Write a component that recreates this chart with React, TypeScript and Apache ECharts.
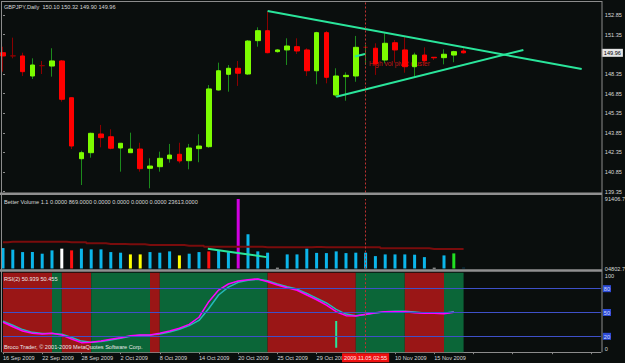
import React, { useEffect, useRef } from "react";
import * as echarts from "echarts";

// ---------- data ----------
const symbolTitle = "GBPJPY,Daily";
const dates = [
  "16 Sep 2009", "17 Sep 2009", "18 Sep 2009", "21 Sep 2009", "22 Sep 2009", "23 Sep 2009", "24 Sep 2009", "25 Sep 2009",
  "28 Sep 2009", "29 Sep 2009", "30 Sep 2009", "1 Oct 2009", "2 Oct 2009", "5 Oct 2009", "6 Oct 2009", "7 Oct 2009",
  "8 Oct 2009", "9 Oct 2009", "12 Oct 2009", "13 Oct 2009", "14 Oct 2009", "15 Oct 2009", "16 Oct 2009", "19 Oct 2009",
  "20 Oct 2009", "21 Oct 2009", "22 Oct 2009", "23 Oct 2009", "25 Oct 2009", "26 Oct 2009", "27 Oct 2009", "28 Oct 2009",
  "29 Oct 2009", "30 Oct 2009", "2 Nov 2009", "3 Nov 2009", "4 Nov 2009", "5 Nov 2009", "6 Nov 2009", "9 Nov 2009",
  "10 Nov 2009", "11 Nov 2009", "12 Nov 2009", "13 Nov 2009", "15 Nov 2009", "16 Nov 2009", "17 Nov 2009", "18 Nov 2009",
];
const futureSlots = 14;

const opens = [149.97, 149.73, 149.72, 148.19, 148.98, 148.95, 149.34, 146.53, 141.87, 142.33, 143.76, 143.55, 142.69, 142.33, 142.61, 141.14, 141.26, 141.87, 142.21, 141.72, 142.64, 142.79, 147.12, 148.32, 148.78, 148.34, 150.89, 151.65, 150.05, 150.18, 150.43, 150.18, 148.59, 151.5, 146.74, 148.14, 148.19, 150.38, 150.31, 149.41, 150.73, 150.18, 148.9, 149.79, 149.62, 149.59, 149.79, 150.1];
const closes = [149.72, 149.72, 148.52, 149.03, 148.98, 149.34, 146.41, 142.84, 142.33, 143.81, 143.48, 142.67, 143.05, 142.61, 141.11, 141.31, 141.9, 142.15, 141.7, 142.69, 142.84, 147.2, 148.59, 148.78, 148.4, 150.86, 151.65, 149.97, 150.18, 150.48, 150.1, 148.59, 151.5, 148.09, 148.19, 148.24, 150.38, 150.38, 149.11, 150.69, 150.18, 148.9, 149.79, 149.36, 149.58, 149.85, 150.05, 149.96];
const lows = [148.52, 149.54, 148.19, 147.96, 148.34, 148.14, 146.23, 142.61, 139.86, 141.95, 142.74, 142.59, 140.88, 142.33, 140.88, 139.61, 140.88, 141.57, 141.52, 141.06, 141.6, 142.71, 147.07, 146.99, 147.43, 148.27, 150.43, 149.92, 149.97, 149.03, 149.87, 148.19, 147.56, 147.63, 146.61, 146.3, 147.75, 149.03, 148.27, 149.16, 149.21, 148.44, 148.14, 149.03, 149.41, 149.08, 149.24, 149.9];
const highs = [150.43, 151.12, 149.97, 149.54, 149.34, 150.31, 149.41, 146.55, 142.48, 143.86, 144.45, 144.12, 143.05, 143.86, 143.09, 141.9, 142.41, 143.0, 143.09, 143.0, 143.74, 147.5, 149.21, 149.03, 149.34, 150.94, 151.91, 153.16, 150.25, 151.07, 151.07, 150.31, 151.57, 151.63, 148.78, 148.47, 151.25, 150.56, 150.69, 151.45, 150.94, 151.15, 149.97, 150.38, 149.62, 150.23, 150.12, 150.32];

const priceTicks = [139.35, 140.85, 142.35, 143.85, 145.35, 146.85, 148.35, 149.85, 151.35, 152.85];
const priceMin = 139.289;
const priceMax = 153.843;

// trend lines: [bar index, price]
const upperTrend = [[27, 153.16], [59.05, 148.72]];
const lowerTrend = [[34, 146.61], [53.1, 150.18]];
const shortTrend = [[35.9, 149.68], [36.94, 149.87]];
const noteText = "High vol pivot cluster";
const noteAnchor = [37.35, 149.18];

// Better Volume
const volumes = [30280, 28270, 25260, 25260, 23250, 27390, 29530, 27390, 29530, 28650, 28650, 25260, 24500, 22370, 22370, 25260, 24500, 26140, 21120, 23250, 25260, 26140, 27390, 25260, 91406.7, 47470, 26140, 24500, 5680, 22370, 22370, 29530, 24260, 24000, 26140, 24000, 24500, 24500, 20240, 22370, 22370, 22370, 22000, 18980, 5680, 21120, 23613, 6000];
const volClass = ["n", "n", "n", "n", "n", "n", "w", "r", "n", "n", "n", "n", "n", "y", "y", "n", "n", "n", "y", "n", "n", "r", "n", "n", "m", "n", "n", "n", "w", "n", "n", "n", "n", "n", "n", "n", "n", "n", "n", "n", "n", "n", "n", "n", "w", "n", "g", "d"];
const volAverage = [37450, 38190, 38190, 38190, 38190, 38190, 38190, 37450, 37450, 36200, 36200, 35330, 35330, 34950, 34950, 34080, 34080, 34080, 34080, 33210, 33210, 31970, 31970, 31970, 31970, 31970, 31970, 31220, 31220, 31220, 31220, 31220, 31500, 31220, 31220, 31220, 31220, 31220, 31220, 29970, 29970, 29970, 29970, 29970, 29100, 29100, 29100, 29100];
const volTrend = [[20.9, 29530], [26.9, 18985]];
const volTicks = [4802.7, 91406.7];
const volTickLabels = ["04802.7", "91406.7"];
const volTitle = "Better Volume 1.1 0.0000 869.0000 0.0000 0.0000 0.0000 0.0000 23613.0000";

// RSI
const rsiMain = [37.7, 32.1, 26.7, 23.8, 22.9, 23.8, 21.7, 16.6, 12.0, 12.5, 14.1, 16.2, 18.3, 20.8, 21.7, 21.7, 23.8, 26.7, 30.1, 35.1, 44.0, 63.6, 78.3, 85.9, 89.7, 91.3, 92.2, 88.8, 84.6, 81.2, 78.0, 72.0, 66.1, 59.4, 51.0, 46.0, 45.6, 47.7, 49.7, 51.0, 51.0, 51.0, 49.7, 49.0, 49.0, 48.5, 50.455];
const rsiSignal = [39, 34, 28.5, 25, 23.5, 23.5, 22.5, 18.5, 14, 12.5, 13.5, 15.5, 17.5, 20, 21.5, 21.5, 23, 25.5, 29, 33.5, 40, 55, 72, 82, 88, 90.5, 92, 90, 86, 82.5, 79.5, 74, 68, 62, 54, 48, 46, 47.5, 49.5, 51, 51.5, 51.5, 50.5, 49.5, 49.5, 49, 50.939];
const rsiZone = ["R", "R", "R", "R", "R", "G", "R", "R", "R", "G", "G", "G", "G", "G", "G", "R", "G", "G", "G", "G", "G", "G", "G", "G", "G", "G", "G", "R", "R", "R", "R", "R", "R", "R", "R", "R", "G", "G", "G", "G", "G", "R", "R", "R", "R", "G", "G"];
const rsiLevels = [20, 50, 80];
const rsiTicks = [0, 20, 50, 80, 100];
const rsiSpike = [[34, 39.3], [34, 5.7]];
const rsiTitle = "RSI(2) 50.939 50.455";
const copyright = "Broco Trader, \u00a9 2001-2009 MetaQuotes Software Corp.";

const cursorIndex = 37;
const cursorLabel = "2009.11.05 02:55";

// ---------- styles ----------
const FONT = '"Liberation Sans", Arial, sans-serif';
const FS = 5.6;
const BG = "#0a0e0d";
const TXT = "#d8d8d8";
const FRAME = "#8c8c8c";
const TREND = "#2ae59b";
const CROSS = "#c03232";
const volColors: Record<string, string> = {
  n: "#0bb6ea", w: "#ffffff", r: "#ff1010", y: "#ffff00", m: "#d000e0", g: "#22e022", d: "#0b3a52",
};
const zoneColors: Record<string, string> = { R: "#9a1616", G: "#0b6638" };

const GL = 3;
const GW = 597.8;
const grids = [
  { left: GL, top: 2, width: GW, height: 190.5 },
  { left: GL, top: 199, width: GW, height: 69.5 },
  { left: GL, top: 272.8, width: GW, height: 79.4 },
];

function buildOption() {
  const cats = dates.concat(Array(futureSlots).fill(""));
  const lastSlot = cats.length - 1;
  const lastClose = closes[closes.length - 1];

  const wickData = dates.map((_, i) => [opens[i], closes[i], lows[i], highs[i]]);
  const bodyData = dates.map((_, i) => {
    const o = opens[i];
    const c = closes[i];
    const v = [o, c, Math.min(o, c), Math.max(o, c)];
    if (Math.abs(o - c) < 0.015) {
      return { value: v, itemStyle: { color: "#8b0000", color0: "#8b0000", borderColor: "#8b0000", borderColor0: "#8b0000" } };
    }
    return v;
  });

  const zones: any[] = [];
  let start = 0;
  for (let i = 1; i <= rsiZone.length; i++) {
    if (i === rsiZone.length || rsiZone[i] !== rsiZone[start]) {
      zones.push([{ xAxis: start, itemStyle: { color: zoneColors[rsiZone[start]] } }, { xAxis: i }]);
      start = i;
    }
  }

  const crossLine = {
    symbol: ["none", "none"],
    silent: true,
    animation: false,
    label: { show: false },
    lineStyle: { color: CROSS, type: [2, 2], width: 1 },
    data: [{ xAxis: cursorIndex }],
  };

  const catAxis = (gridIndex: number, showLabels: boolean) => ({
    type: "category",
    gridIndex,
    data: cats,
    boundaryGap: false,
    axisLine: { show: showLabels, lineStyle: { color: FRAME } },
    axisTick: { show: showLabels, interval: 3, length: 2, lineStyle: { color: FRAME } },
    axisLabel: {
      show: showLabels,
      interval: 3,
      align: "left",
      margin: 3,
      color: TXT,
      fontSize: FS,
      fontFamily: FONT,
      // the label under the cursor time box is hidden, as in the terminal
      formatter: (v: string, idx: number) => (Math.abs(idx - cursorIndex) <= 2 ? "" : v),
    },
    splitLine: { show: false },
  });
  const valAxis = (gridIndex: number) => ({
    type: "value",
    gridIndex,
    min: 0,
    max: lastSlot,
    show: false,
  });

  const yBase = {
    position: "right",
    offset: 1,
    axisLine: { show: false },
    splitLine: { show: false },
  };

  return {
    animation: false,
    backgroundColor: BG,
    textStyle: { fontFamily: FONT },
    grid: grids.map((g) => ({ ...g, containLabel: false, outerBoundsMode: "none" })),
    xAxis: [catAxis(0, false), catAxis(1, false), catAxis(2, true), valAxis(0), valAxis(1), valAxis(2)],
    yAxis: [
      {
        ...yBase,
        type: "value",
        gridIndex: 0,
        min: priceMin,
        max: priceMax,
        axisTick: { show: true, length: 2, lineStyle: { color: FRAME }, customValues: priceTicks },
        axisLabel: {
          color: TXT, fontSize: FS, fontFamily: FONT, margin: 3,
          customValues: priceTicks,
          // the tick label under the last-price box is hidden
          formatter: (v: number) => (Math.abs(v - lastClose) < 0.3 ? "" : v.toFixed(2)),
        },
      },
      {
        ...yBase,
        type: "value",
        gridIndex: 1,
        min: volTicks[0],
        max: volTicks[1],
        axisTick: { show: false },
        axisLabel: {
          color: TXT, fontSize: FS, fontFamily: FONT, margin: 3,
          customValues: volTicks,
          formatter: (v: number) => volTickLabels[volTicks.indexOf(v)] ?? String(v),
        },
      },
      {
        ...yBase,
        type: "value",
        gridIndex: 2,
        min: 0,
        max: 100,
        axisTick: { show: false },
        axisLabel: {
          color: TXT, fontSize: FS, fontFamily: FONT, margin: 1,
          customValues: rsiTicks,
          verticalAlignMaxLabel: "top",
          verticalAlignMinLabel: "bottom",
          formatter: (v: number) => (rsiLevels.indexOf(v) >= 0 ? `{b|${v}}` : `{p|${v}}`),
          rich: {
            b: { backgroundColor: "#2c4bd6", color: "#d4dcff", fontSize: FS, fontFamily: FONT, padding: [1, 1, 0, 1] },
            p: { color: TXT, fontSize: FS, fontFamily: FONT, padding: [0, 0, 0, 2] },
          },
        },
      },
    ],
    series: [
      {
        type: "candlestick",
        name: "wicks",
        xAxisIndex: 0,
        yAxisIndex: 0,
        barWidth: 1,
        clip: true,
        itemStyle: { color: "#1c8a1c", color0: "#8b0000", borderColor: "#1c8a1c", borderColor0: "#8b0000", borderWidth: 1 },
        data: wickData,
      },
      {
        type: "candlestick",
        name: "bodies",
        xAxisIndex: 0,
        yAxisIndex: 0,
        barWidth: 5,
        clip: true,
        itemStyle: { color: "#7cfc00", color0: "#ff0000", borderColor: "#7cfc00", borderColor0: "#ff0000", borderWidth: 1 },
        data: bodyData,
        markLine: {
          symbol: ["none", "none"],
          silent: true,
          animation: false,
          lineStyle: { color: "rgba(0,0,0,0)", width: 0 },
          label: {
            show: true,
            position: "end",
            distance: 1,
            formatter: lastClose.toFixed(2),
            backgroundColor: "#e6e6e6",
            color: "#000",
            fontSize: FS,
            fontFamily: FONT,
            padding: [1, 2, 1, 2],
          },
          data: [{ yAxis: lastClose }],
        },
      },
      {
        type: "line", xAxisIndex: 3, yAxisIndex: 0, data: upperTrend, symbol: "none",
        lineStyle: { color: TREND, width: 2 }, markLine: crossLine, z: 3,
      },
      { type: "line", xAxisIndex: 3, yAxisIndex: 0, data: lowerTrend, symbol: "none", lineStyle: { color: TREND, width: 2 }, z: 3 },
      { type: "line", xAxisIndex: 3, yAxisIndex: 0, data: shortTrend, symbol: "none", lineStyle: { color: TREND, width: 2 }, z: 3 },
      {
        type: "bar",
        xAxisIndex: 1,
        yAxisIndex: 1,
        barWidth: 3,
        data: volumes.map((v, i) => ({ value: v, itemStyle: { color: volColors[volClass[i]] } })),
      },
      {
        type: "line", xAxisIndex: 1, yAxisIndex: 1, data: volAverage, step: "middle", symbol: "none",
        lineStyle: { color: "#7a0c0c", width: 2 },
      },
      {
        type: "line", xAxisIndex: 4, yAxisIndex: 1, data: volTrend, symbol: "none",
        lineStyle: { color: TREND, width: 2 }, markLine: crossLine, z: 3,
      },
      {
        type: "line",
        xAxisIndex: 5,
        yAxisIndex: 2,
        data: rsiSpike,
        symbol: "none",
        lineStyle: { color: TREND, width: 2 },
        z: 4,
        markArea: { silent: true, data: zones },
        markLine: {
          symbol: ["none", "none"],
          silent: true,
          animation: false,
          label: { show: false },
          data: [
            ...rsiLevels.map((l) => ({ yAxis: l, lineStyle: { color: "#3e50c8", width: 1, type: "solid" } })),
            { xAxis: cursorIndex, lineStyle: { color: CROSS, width: 1, type: [2, 2] } },
          ],
        },
      },
      {
        type: "line", xAxisIndex: 2, yAxisIndex: 2, data: rsiSignal, symbol: "none",
        lineStyle: { color: "#25b8b8", width: 1.5 },
      },
      {
        type: "line", xAxisIndex: 2, yAxisIndex: 2, data: rsiMain, symbol: "none",
        lineStyle: { color: "#ff00ff", width: 1.5 },
      },
    ],
  };
}

const txt = (text: string, x: number, y: number, fill = TXT, extra: any = {}) => ({
  type: "text",
  z: 50,
  silent: true,
  style: { text, x, y, fill, fontSize: FS, fontFamily: FONT, verticalAlign: "middle", align: "left", ...extra },
});

export default function App() {
  const ref = useRef<HTMLDivElement>(null);
  useEffect(() => {
    if (!ref.current) return;
    const chart = echarts.init(ref.current, null, { renderer: "svg" });
    chart.setOption(buildOption() as any);

    const cx = chart.convertToPixel({ xAxisIndex: 5 } as any, cursorIndex) as unknown as number;
    const nx = chart.convertToPixel({ xAxisIndex: 3 } as any, noteAnchor[0]) as unknown as number;
    const ny = chart.convertToPixel({ yAxisIndex: 0 } as any, noteAnchor[1]) as unknown as number;
    const rsiBottom = grids[2].top + grids[2].height;
    const last = dates.length - 1;
    const header = `${symbolTitle}  ${opens[last].toFixed(2)} ${highs[last].toFixed(2)} ${lows[last].toFixed(2)} ${closes[last].toFixed(2)}`;

    const line = (x1: number, y1: number, x2: number, y2: number) => ({
      type: "line", z: 40, silent: true, shape: { x1, y1, x2, y2 }, style: { stroke: FRAME, lineWidth: 1 },
    });
    chart.setOption({
      graphic: [
        line(1.5, 1, 1.5, rsiBottom),
        line(1, 1.5, 602, 1.5),
        line(602, 1, 602, rsiBottom),
        { type: "rect", z: 40, silent: true, shape: { x: 0, y: 192.5, width: 602, height: 2.5 }, style: { fill: "#909090" } },
        { type: "rect", z: 40, silent: true, shape: { x: 0, y: 269.3, width: 602, height: 2.5 }, style: { fill: "#909090" } },
        txt(header, 4, 6.8),
        txt(volTitle, 4, 202),
        txt(rsiTitle, 4, 279, "#e8e8e8"),
        txt(copyright, 4, 346.7, "#e8e8e8"),
        {
          type: "text", z: 1, silent: true,
          style: { text: noteText, x: nx, y: ny, fill: "#c01818", fontSize: 6.6, fontFamily: FONT, verticalAlign: "middle", align: "left" },
        },
        {
          type: "text", z: 60, silent: true,
          style: {
            text: cursorLabel, x: cx, y: rsiBottom + 5.5, fill: "#ffe8e8", fontSize: FS, fontFamily: FONT,
            align: "center", verticalAlign: "middle", backgroundColor: "#f01010", padding: [2, 2, 1, 2],
          },
        },
      ],
    } as any);
    return () => chart.dispose();
  }, []);
  return <div ref={ref} style={{ position: "fixed", left: 0, top: 0, width: 625, height: 363 }} />;
}
